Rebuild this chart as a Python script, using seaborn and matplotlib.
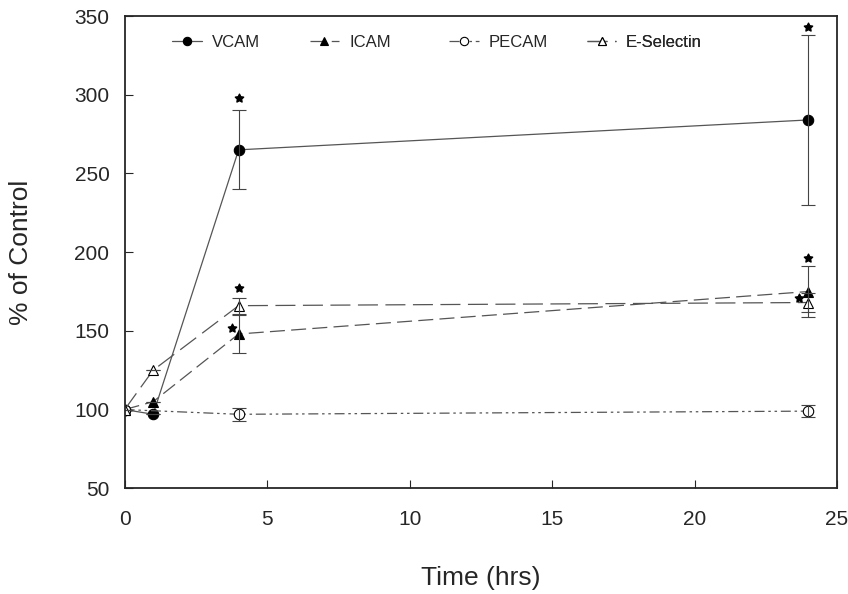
import matplotlib
matplotlib.use("Agg")
import matplotlib.pyplot as plt
import seaborn as sns
import pandas as pd

sns.set_style("ticks")
plt.rcParams['font.family'] = ['Liberation Sans', 'DejaVu Sans']

series = ["VCAM", "ICAM", "PECAM", "E-Selectin"]
time_vcam = [0, 1, 4, 24]
vcam = [100, 97, 265, 284]
vcam_err = [0, 0, 25, 54]
time_icam = [0, 1, 4, 24]
icam = [100, 105, 148, 175]
icam_err = [0, 0, 12, 16]
time_pecam = [0, 4, 24]
pecam = [100, 97, 99]
pecam_err = [0, 4, 4]
time_esel = [0, 1, 4, 24]
esel = [100, 125, 166, 168]
esel_err = [0, 0, 5, 6]

# significance stars (time, value)
star_t = [4, 3.75, 4, 24, 24, 23.65]
star_v = [298, 152, 177, 343, 196, 171]

data = {
    "VCAM": (time_vcam, vcam, vcam_err),
    "ICAM": (time_icam, icam, icam_err),
    "PECAM": (time_pecam, pecam, pecam_err),
    "E-Selectin": (time_esel, esel, esel_err),
}
styles = {
    "VCAM": dict(marker="o", mfc="black", ls="-", ms=7.5),
    "ICAM": dict(marker="^", mfc="black", ls=(0, (12, 5)), ms=7.5),
    "PECAM": dict(marker="o", mfc="white", ls=(0, (8, 3, 2, 3, 2, 3)), ms=7.5),
    "E-Selectin": dict(marker="^", mfc="white", ls=(0, (16, 6)), ms=7.5),
}
legend_x = [0.067, 0.260, 0.456, 0.649]

fig = plt.figure(figsize=(8.48, 5.94), dpi=100)
ax = fig.add_axes([0.147, 0.178, 0.84, 0.795])

for name in series:
    t, v, e = data[name]
    st = styles[name]
    df = pd.DataFrame({"t": t, "v": v})
    sns.lineplot(data=df, x="t", y="v", ax=ax, color="#555555", lw=0.9,
                 linestyle=st["ls"], marker=st["marker"], markersize=st["ms"],
                 markerfacecolor=st["mfc"], markeredgecolor="black",
                 markeredgewidth=0.8, label=name, legend=False)
    ax.errorbar(t, v, yerr=e, fmt="none", ecolor="#444444", elinewidth=0.8,
                capsize=5, capthick=0.8)

ax.scatter(star_t, star_v, marker=(5, 1, 0), s=40, color="black", zorder=5)

ax.set_xlim(0, 25)
ax.set_ylim(50, 350)
ax.set_xticks([0, 5, 10, 15, 20, 25])
ax.set_yticks([50, 100, 150, 200, 250, 300, 350])
ax.tick_params(direction="in", length=6, labelsize=15, width=0.8)
ax.tick_params(axis="y", pad=11)
ax.tick_params(axis="x", pad=16)
for s in ax.spines.values():
    s.set_linewidth(1.3)
    s.set_visible(True)
ax.set_xlabel("Time (hrs)", fontsize=19)
ax.set_ylabel("% of Control", fontsize=19)
ax.xaxis.set_label_coords(0.5, -0.165)
ax.yaxis.set_label_coords(-0.128, 0.5)

handles, labels = ax.get_legend_handles_labels()
for h, l, x in zip(handles, labels, legend_x):
    lg = ax.legend([h], [l], loc="center left", bbox_to_anchor=(x, 0.945),
                   frameon=False, fontsize=12, handlelength=1.75,
                   handletextpad=0.6, markerscale=0.8, borderaxespad=0,
                   borderpad=0)
    ax.add_artist(lg)

fig.savefig("out.png", dpi=100)
